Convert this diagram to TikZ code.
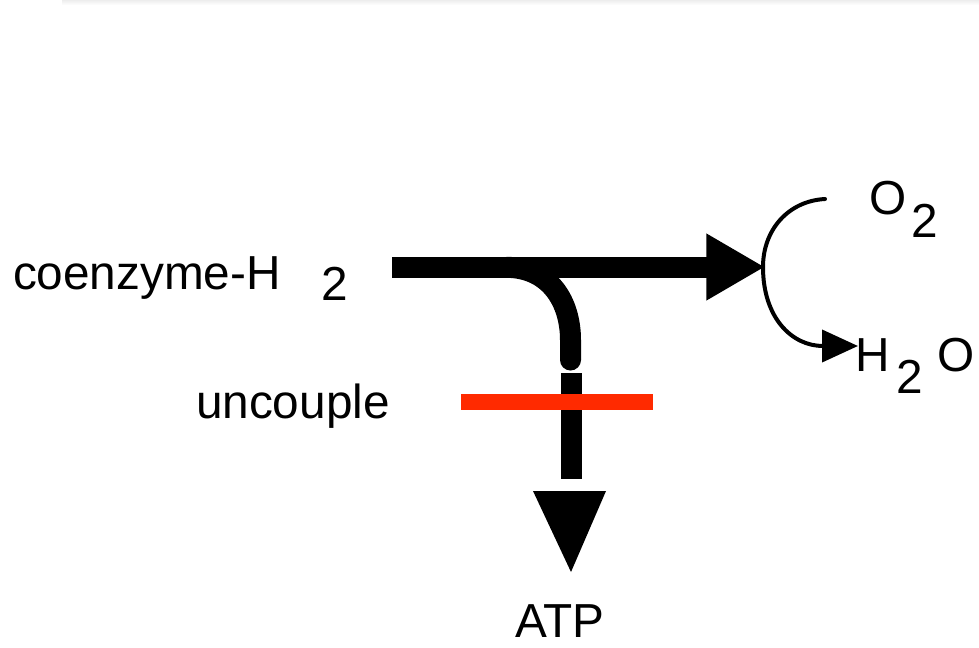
\documentclass[tikz,border=0pt]{standalone}
\usepackage{fontspec}
\setmainfont{Liberation Sans}
\usetikzlibrary{arrows.meta}
\definecolor{uncred}{RGB}{255,42,0}
\begin{document}
\begin{tikzpicture}[x=0.75pt,y=-0.75pt,
  lbl/.style={inner sep=0pt,outer sep=0pt,anchor=base west,font=\fontsize{35.8}{42}\selectfont},
  thick bar/.style={line width=15.75pt,black},
  thin arc/.style={line width=3pt,black,line cap=round}]
\useasboundingbox (0,0) rectangle (979,647);
\shade[top color=black!7,bottom color=white] (62,0) rectangle (979,5);
% labels
\node[lbl] (coenz) at (13,289) {coenzyme-H};
\node[lbl] (coenzsub) at (321,300) {2};
\node[lbl] (uncouple) at (196,418) {uncouple};
\node[lbl] (oxy) at (869,214) {O};
\node[lbl] (oxysub) at (911,237) {2};
\node[lbl] (wH) at (855,371) {H};
\node[lbl] (wsub) at (896,393) {2};
\node[lbl] (wO) at (937,371) {O};
\node[lbl,anchor=base] (atp) at (560,637) {ATP};
% coordinates
\coordinate (mainstart) at (392,267);
\coordinate (junction) at (765,267);
\coordinate (branchstart) at (506,267.3);
\coordinate (branchend) at (570.5,360);
\coordinate (barstart) at (571.5,373);
\coordinate (barend) at (571.5,479);
\coordinate (arcstart) at (825,199);
\coordinate (arcmid) at (763,267);
\coordinate (waterarrow) at (858,346);
% branch curve (under the main bar)
\draw[thick bar] (branchstart) .. controls (550,267.3) and (570.5,302) .. (570.5,340) -- (branchend);
\fill (branchend) circle[radius=10.5];
% main arrow
\draw[thick bar,-{Triangle[length=44pt,width=47pt]}] (mainstart) -- (junction);
% lower bar and head to ATP
\draw[thick bar] (barstart) -- (barend);
\fill (533,491) -- (606,491) -- (571,572) -- cycle;
% uncouple red line
\draw[line width=12pt,uncred] (461,402) -- (653,402);
% O2 -> H2O arc
\draw[thin arc,-{Triangle[length=27pt,width=24pt]}] (arcstart) .. controls (788,201) and (763,230) .. (arcmid) .. controls (763,318) and (792,346) .. (waterarrow);
\end{tikzpicture}
\end{document}
